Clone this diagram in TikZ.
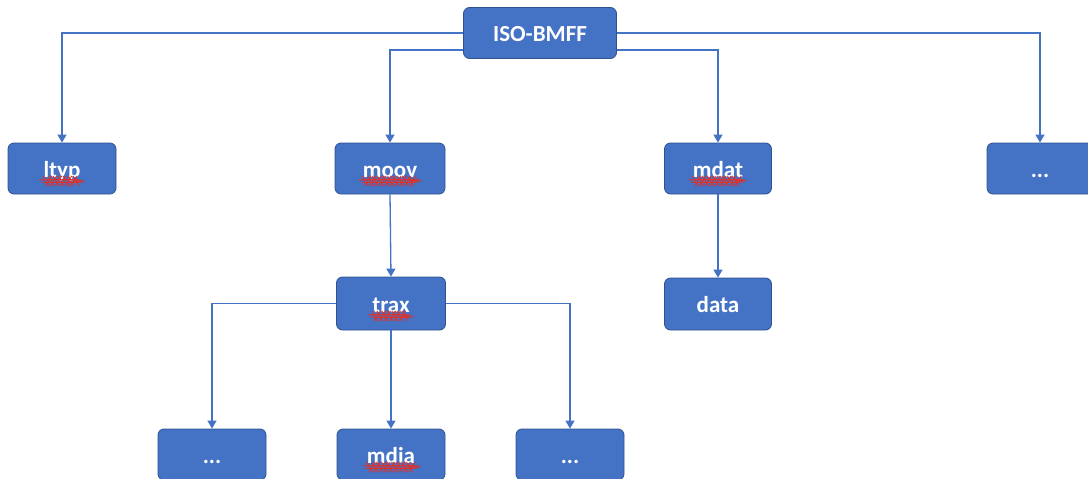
\documentclass[tikz,border=0pt]{standalone}
\usepackage{fontspec}
\setmainfont{Carlito}
\usetikzlibrary{arrows.meta,decorations.pathmorphing}
\definecolor{Box_Blue}{HTML}{4472C4}
\definecolor{Box_Edge}{HTML}{2F528F}
\definecolor{Wave_Red}{HTML}{E0302A}

% wavy spell-check underline
\newcommand{\spellwave}[1]{\tikz[baseline=(sw.base), x=1cm, y=1cm]{\node[inner sep=0pt, minimum width=0pt,
        minimum height=0pt, text height=, text depth=, draw=none, fill=none, rounded corners=0pt] (sw) {#1};
    \draw[overlay, Wave_Red, line width=0.8pt, decorate, decoration={snake, amplitude=1.3pt, segment length=5pt}]
    ([yshift=-4pt]sw.base west) -- ([yshift=-4pt]sw.base east);}}

\begin{document}
\begin{tikzpicture}[x=1pt, y=-1pt, >={Triangle[width=9pt,length=8pt]},
    box/.style={draw=Box_Edge, line width=0.8pt, fill=Box_Blue, rounded corners=6pt,
        minimum width=108pt, minimum height=51pt, inner sep=0pt, text height=22pt, text depth=5pt,
        text=white, font=\fontsize{23}{27}\selectfont\bfseries},
    link/.style={->, draw=Box_Blue, line width=1.3pt}]
    \useasboundingbox (0,0) rectangle (1088,479);

    % Root
    \node[box, minimum width=153pt] (iso) at (540,33) {ISO-BMFF};

    % First level
    \node[box] (ltyp) at (62,168.5) {\spellwave{ltyp}};
    \node[box, minimum width=110pt] (moov) at (390,168.5) {\spellwave{moov}};
    \node[box, minimum width=107pt] (mdat) at (718,168.5) {\spellwave{mdat}};
    \node[box, minimum width=106pt] (more) at (1040,168.5) {...};

    % Second level
    \node[box, minimum width=109pt, minimum height=53pt] (trax) at (391,303.5) {\spellwave{trax}};
    \node[box, minimum width=107pt, minimum height=52pt] (data) at (718,304) {data};

    % Third level
    \node[box] (dotsL) at (212,454.5) {...};
    \node[box] (mdia) at (391,454.5) {\spellwave{mdia}};
    \node[box] (dotsR) at (570,454.5) {...};

    % Connectors
    \draw[link] (iso.west) -| (ltyp.north);
    \draw[link] (iso.east) -| (more.north);
    \draw[link] ([yshift=-17pt]iso.west) -| (moov.north);
    \draw[link] ([yshift=-17pt]iso.east) -| (mdat.north);
    \draw[link] (moov.south) -- (trax.north);
    \draw[link] (mdat.south) -- (data.north);
    \draw[link] (trax.west) -| (dotsL.north);
    \draw[link] (trax.south) -- (mdia.north);
    \draw[link] (trax.east) -| (dotsR.north);
\end{tikzpicture}
\end{document}
